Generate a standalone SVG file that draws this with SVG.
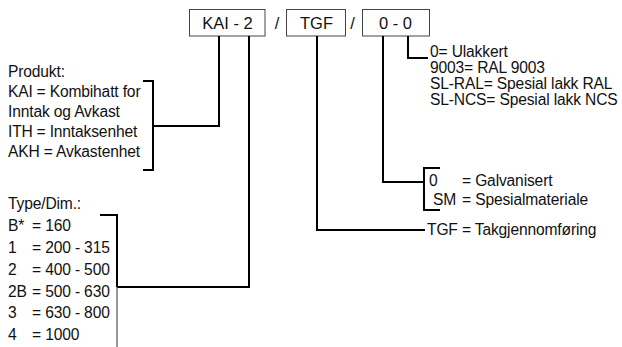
<svg xmlns="http://www.w3.org/2000/svg" width="622" height="347" viewBox="0 0 622 347">
<style>
text{font-family:"Liberation Sans",Arial,sans-serif;font-size:15.6px;letter-spacing:-0.15px;fill:#111}
.bt{font-size:16.5px;letter-spacing:0;text-anchor:middle}
.box{fill:#fff;stroke:#444;stroke-width:1}
.ln{fill:none;stroke:#000;stroke-width:2}
.thin{fill:none;stroke:#333;stroke-width:1}
</style>
<rect width="622" height="347" fill="#fff"/>
<g id="code">
<g id="box-kai"><rect class="box" x="189.5" y="9.5" width="75.5" height="26.5"/><text class="bt" x="227.5" y="28.5">KAI - 2</text></g>
<text class="bt" x="277" y="28.5">/</text>
<g id="box-tgf"><rect class="box" x="286.5" y="9.5" width="59" height="26.5"/><text class="bt" x="316.5" y="28.5">TGF</text></g>
<text class="bt" x="352.5" y="28.5">/</text>
<g id="box-00"><rect class="box" x="362.5" y="9.5" width="67" height="26.5"/><text class="bt" x="395.5" y="28.5">0 - 0</text></g>
</g>
<g id="connectors">
<path class="ln" d="M219,36 V126 H153 M143,81 H153 V170 H143"/>
<path class="ln" d="M249,36 V287 H117 M100,215 H117 V287"/>
<path class="thin" d="M117,287 V347"/>
<path class="ln" d="M317,36 V230 H425"/>
<path class="ln" d="M383,36 V182 H424 M440,168 H424 V210 H440"/>
<path class="ln" d="M408,36 V58 H428"/>
</g>
<g id="produkt">
<text x="8" y="77">Produkt:</text>
<text x="8" y="97">KAI<tspan x="36.5">= Kombihatt for</tspan></text>
<text x="8" y="117">Inntak og Avkast</text>
<text x="8" y="137">ITH<tspan x="36.5">= Inntaksenhet</tspan></text>
<text x="8" y="157">AKH = Avkastenhet</text>
</g>
<g id="type">
<text x="8" y="209">Type/Dim.:</text>
<text x="8" y="231">B*<tspan x="32">= 160</tspan></text>
<text x="8" y="253">1<tspan x="32">= 200 - 315</tspan></text>
<text x="8" y="275">2<tspan x="32">= 400 - 500</tspan></text>
<text x="8" y="297">2B<tspan x="32">= 500 - 630</tspan></text>
<text x="8" y="318">3<tspan x="32">= 630 - 800</tspan></text>
<text x="8" y="340">4<tspan x="32">= 1000</tspan></text>
</g>
<g id="lakk">
<text x="430" y="57">0= Ulakkert</text>
<text x="430" y="73">9003= RAL 9003</text>
<text x="430" y="89">SL-RAL= Spesial lakk RAL</text>
<text x="430" y="105">SL-NCS= Spesial lakk NCS</text>
</g>
<g id="materiale">
<text x="429" y="186">0<tspan x="462">= Galvanisert</tspan></text>
<text x="433" y="205">SM<tspan x="462">= Spesialmateriale</tspan></text>
</g>
<g id="tgf">
<text x="427" y="235">TGF = Takgjennomføring</text>
</g>
</svg>
